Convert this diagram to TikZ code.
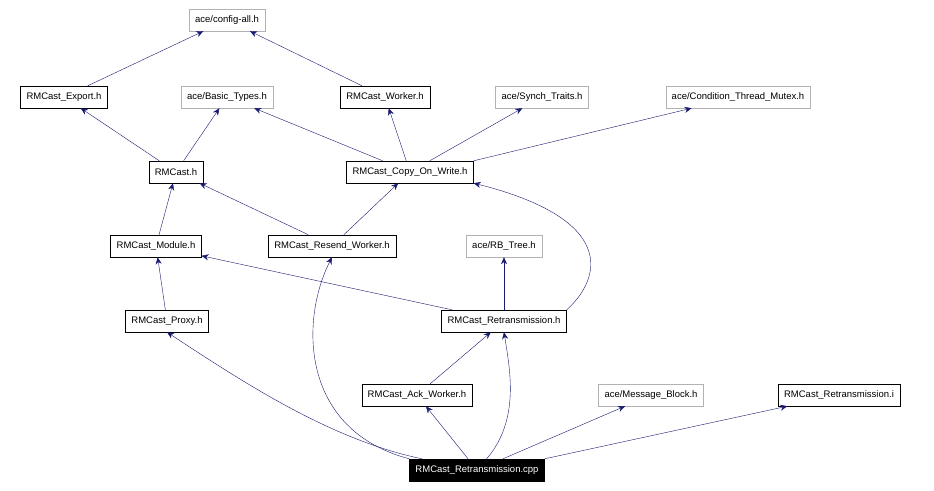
\documentclass[tikz,border=0pt]{standalone}
\usepackage{fontspec}
\setmainfont{Liberation Sans}
\usetikzlibrary{arrows.meta}
\definecolor{edgeColor}{RGB}{25,25,112}
\tikzset{
  file/.style = {draw=black, fill=white, minimum height=22pt, inner xsep=6pt, font=\fontsize{9.5pt}{11pt}\selectfont},
  sys/.style = {file, draw=gray!60},
  main/.style = {file, fill=black, text=white},
  inc/.style = {edgeColor, -{Stealth[length=7pt,width=6pt]}}
}
\begin{document}
\begin{tikzpicture}[x=1pt, y=-1pt]
            \useasboundingbox (0,0) rectangle (934,490);
            %\draw [step = 50, help lines] (0,0) grid (934,490);
            \node [sys] (config) at (227,20) {ace/config-all.h};
            
            \node [file] (export) at (64,97) {RMCast\_Export.h};
            \node [sys] (basic) at (227,97) {ace/Basic\_Types.h};
            \node [file] (worker) at (385,97) {RMCast\_Worker.h};
            \node [sys] (synch) at (542,97) {ace/Synch\_Traits.h};
            \node [sys] (cond) at (738,97) {ace/Condition\_Thread\_Mutex.h};
            
            \node [file] (rmcast) at (176,172) {RMCast.h};
            \node [file] (cow) at (410,172) {RMCast\_Copy\_On\_Write.h};
            
            \node [file] (module) at (156,246) {RMCast\_Module.h};
            \node [file] (resend) at (332,246) {RMCast\_Resend\_Worker.h};
            \node [sys] (rbtree) at (504,246) {ace/RB\_Tree.h};
            
            \node [file] (proxy) at (167,321) {RMCast\_Proxy.h};
            \node [file] (retrans) at (504,321) {RMCast\_Retransmission.h};
            
            \node [file] (ack) at (417,395) {RMCast\_Ack\_Worker.h};
            \node [sys] (msgblock) at (651,395) {ace/Message\_Block.h};
            \node [file] (inl) at (839,395) {RMCast\_Retransmission.i};
            
            \node [main] (cpp) at (477,470) {RMCast\_Retransmission.cpp};
            
            \draw [inc] (export) -- (config);
            \draw [inc] (worker) -- (config);
            \draw [inc] (rmcast) -- (export);
            \draw [inc] (rmcast) -- (basic);
            \draw [inc] (cow) -- (basic);
            \draw [inc] (cow) -- (worker);
            \draw [inc] (cow) -- (synch);
            \draw [inc] (cow.north east) -- (cond);
            \draw [inc] (module) -- (rmcast);
            \draw [inc] (resend) -- (rmcast);
            \draw [inc] (resend) -- (cow);
            \draw [inc] (retrans) -- (module);
            \draw [inc] (retrans) -- (rbtree);
            \draw [inc] (retrans.north east) .. controls (600,280) and (620,220) .. (cow.south east);
            \draw [inc] (proxy) -- (module);
            \draw [inc] (ack) -- (retrans);
            \draw [inc] (cpp) .. controls (330,440) and (240,380) .. (proxy.south);
            \draw [inc] (cpp.north west) .. controls (300,430) and (300,320) .. (resend.south);
            \draw [inc] (cpp) -- (ack);
            \draw [inc] (cpp) .. controls (520,420) and (510,370) .. (retrans.south);
            \draw [inc] (cpp) -- (msgblock);
            \draw [inc] (cpp.north east) -- (inl);
        \end{tikzpicture}
\end{document}
